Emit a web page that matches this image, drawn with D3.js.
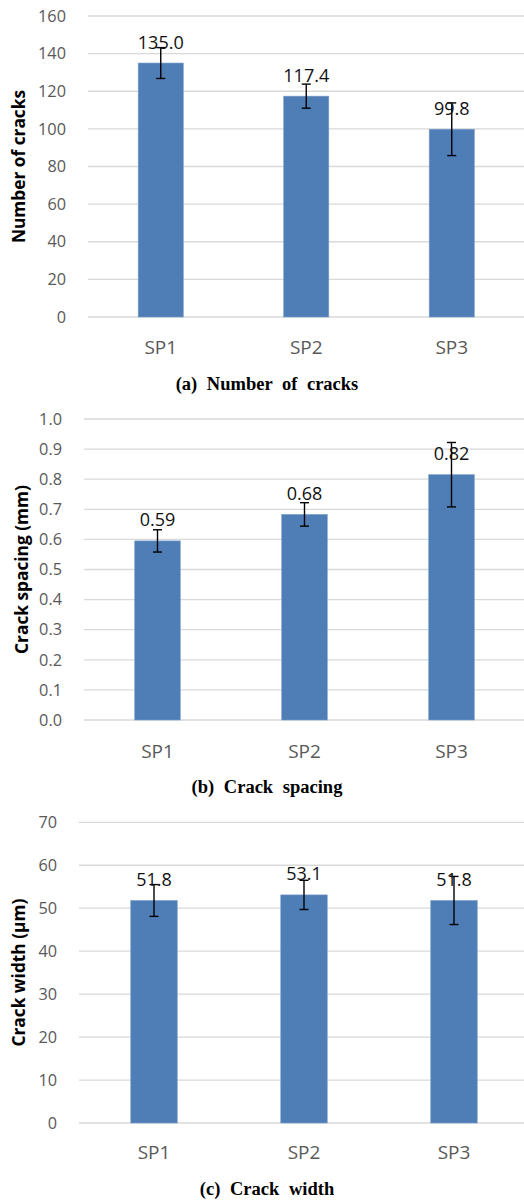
<!DOCTYPE html>
<html><head><meta charset="utf-8">
<script src="https://cdn.jsdelivr.net/npm/d3@7/dist/d3.min.js"></script>
<style>body{margin:0;background:#fff}svg{display:block}</style>
</head><body>
<svg id="c" width="524" height="1201"></svg>
<script>
const categories = ["SP1", "SP2", "SP3"];
const crackCount = [135.0, 117.4, 99.8];
const crackCountErr = [8.2, 6.4, 14.0];
const crackSpacing = [0.595, 0.683, 0.815];
const crackSpacingErr = [0.037, 0.039, 0.107];
const crackWidth = [51.8, 53.1, 51.8];
const crackWidthErr = [3.7, 3.4, 5.6];
const ticksA = [0, 20, 40, 60, 80, 100, 120, 140, 160];
const ticksB = [0, 0.1, 0.2, 0.3, 0.4, 0.5, 0.6, 0.7, 0.8, 0.9, 1.0];
const ticksC = [0, 10, 20, 30, 40, 50, 60, 70];
const labelsA = ["135.0", "117.4", "99.8"];
const labelsB = ["0.59", "0.68", "0.82"];
const labelsC = ["51.8", "53.1", "51.8"];

const svg = d3.select("#c");
const panels = [
  {vals: crackCount, errs: crackCountErr, labels: labelsA, ticks: ticksA, fmt: d3.format("d"),
   ymax: 160, y0: 317, y1: 16, x0: 88, x1: 524.5, tickX: 66, titleX: 19,
   title: "Number of cracks", caption: "(a)  Number  of  cracks", xlabY: 354, capY: 390},
  {vals: crackSpacing, errs: crackSpacingErr, labels: labelsB, ticks: ticksB, fmt: d3.format(".1f"),
   ymax: 1.0, y0: 720, y1: 419, x0: 84, x1: 525, tickX: 62, titleX: 22,
   title: "Crack spacing (mm)", caption: "(b)  Crack  spacing", xlabY: 758, capY: 793},
  {vals: crackWidth, errs: crackWidthErr, labels: labelsC, ticks: ticksC, fmt: d3.format("d"),
   ymax: 70, y0: 1123, y1: 822.3, x0: 79, x1: 529, tickX: 57, titleX: 19,
   title: "Crack width (\u03bcm)", caption: "(c)  Crack  width", xlabY: 1159, capY: 1195}
];

panels.forEach(p => {
  const g = svg.append("g");
  const x = d3.scaleBand().domain(categories).range([p.x0, p.x1]).paddingInner(0.69).paddingOuter(0.345);
  const y = d3.scaleLinear().domain([0, p.ymax]).range([p.y0, p.y1]);

  g.selectAll(".grid").data(p.ticks).enter().append("line")
    .attr("x1", p.x0).attr("x2", 524)
    .attr("y1", d => y(d)).attr("y2", d => y(d))
    .attr("stroke", "#d9d9d9").attr("stroke-width", 1.3);

  g.selectAll(".tk").data(p.ticks).enter().append("text")
    .attr("x", p.tickX).attr("y", d => y(d)).attr("dy", "0.35em")
    .attr("text-anchor", "end").attr("font-family", "Open Sans").attr("font-size", 16.3)
    .attr("fill", "#595959").text(d => p.fmt(d));

  g.selectAll(".bar").data(p.vals).enter().append("rect")
    .attr("x", (d, i) => x(categories[i])).attr("width", x.bandwidth())
    .attr("y", d => y(d)).attr("height", d => y(0) - y(d))
    .attr("fill", "#4f7db6").attr("stroke", "#7a9fcc").attr("stroke-width", 0.6);

  const cx = i => x(categories[i]) + x.bandwidth() / 2;
  p.vals.forEach((v, i) => {
    const e = p.errs[i];
    const eg = g.append("g").attr("stroke", "#000").attr("stroke-width", 1.4);
    eg.append("line").attr("x1", cx(i)).attr("x2", cx(i)).attr("y1", y(v + e)).attr("y2", y(v - e));
    eg.append("line").attr("x1", cx(i) - 4.5).attr("x2", cx(i) + 4.5).attr("y1", y(v + e)).attr("y2", y(v + e));
    eg.append("line").attr("x1", cx(i) - 4.5).attr("x2", cx(i) + 4.5).attr("y1", y(v - e)).attr("y2", y(v - e));
  });

  g.selectAll(".vl").data(p.vals).enter().append("text")
    .attr("x", (d, i) => cx(i)).attr("y", d => y(d) - 14.5)
    .attr("text-anchor", "middle").attr("font-family", "Open Sans").attr("font-size", 18)
    .attr("fill", "#111").text((d, i) => p.labels[i]);

  g.selectAll(".xl").data(categories).enter().append("text")
    .attr("x", d => x(d) + x.bandwidth() / 2).attr("y", p.xlabY)
    .attr("text-anchor", "middle").attr("font-family", "Open Sans").attr("font-size", 19)
    .attr("fill", "#595959").text(d => d);

  g.append("text")
    .attr("transform", `translate(${p.titleX},${(p.y0 + p.y1) / 2}) rotate(-90)`)
    .attr("dy", "0.35em").attr("text-anchor", "middle")
    .attr("font-family", "Open Sans").attr("font-weight", "bold").attr("font-size", 17.3)
    .attr("fill", "#000").text(p.title);

  g.append("text")
    .attr("x", 267).attr("y", p.capY).attr("text-anchor", "middle")
    .attr("font-family", "Liberation Serif").attr("font-weight", "bold").attr("font-size", 18.5)
    .attr("word-spacing", 5).attr("fill", "#000").text(p.caption);
});
</script>
</body></html>
